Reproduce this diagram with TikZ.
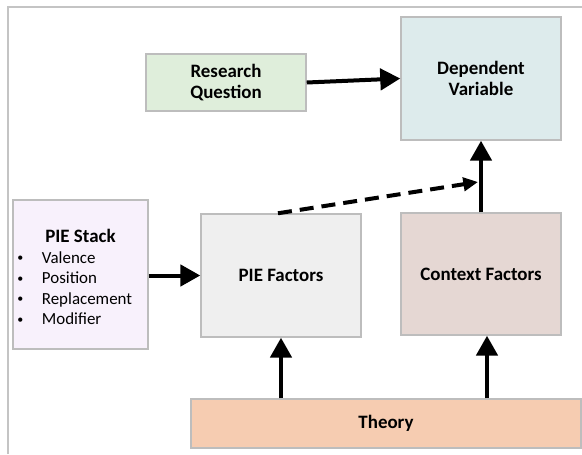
\documentclass[tikz,border=0pt]{standalone}
\usepackage{fontspec}
\setmainfont{Carlito}
\usetikzlibrary{arrows.meta}
\definecolor{framegray}{HTML}{C4C4C4}
\definecolor{boxgray}{HTML}{BDBDBD}
\definecolor{rqfill}{HTML}{DFEEDB}
\definecolor{dvfill}{HTML}{DDEBEC}
\definecolor{stackfill}{HTML}{F8F1FC}
\definecolor{piefill}{HTML}{EFEFEF}
\definecolor{ctxfill}{HTML}{E5D7D3}
\definecolor{thfill}{HTML}{F6CCB1}
\newcommand{\smallbul}{\raisebox{1pt}{\fontsize{9}{9}\selectfont •}}
\tikzset{
  boxnode/.style={draw=boxgray, line width=1.1pt, inner sep=0pt, align=center,
    font=\fontsize{14.2}{15.75}\selectfont\bfseries},
  bigarrow/.style={line width=3pt, -{Triangle[length=15pt,width=16pt]}},
  dasharrow/.style={line width=3pt, dash pattern=on 10.5pt off 6pt, -{Triangle[length=11pt,width=10pt]}},
}
\begin{document}
\begin{tikzpicture}[x=0.75pt,y=-0.75pt]
\useasboundingbox (0,0) rectangle (582,454);
\draw[framegray, line width=1.1pt] (8,454) -- (8,7) -- (582,7);
\node[boxnode, fill=rqfill, minimum width=120pt, minimum height=42.75pt] (rq) at (226,82.5) {Research\\Question};
\node[boxnode, fill=dvfill, minimum width=120pt, minimum height=92.25pt] (dv) at (481,78.5) {Dependent\\Variable};
\node[boxnode, fill=stackfill, minimum width=101.25pt, minimum height=111.75pt] (stack) at (80.5,274.5) {};
\node[inner sep=0pt, anchor=north west, font=\fontsize{12.7}{15.4}\selectfont] (stacktext) at (17,228)
  {\begin{tabular}{@{}l@{\hspace{14pt}}l@{}}
   \multicolumn{2}{@{\hspace{21pt}}l}{\fontsize{14.2}{15}\selectfont\bfseries PIE Stack}\\
   \smallbul&Valence\\ \smallbul&Position\\ \smallbul&Replacement\\ \smallbul&Modifier
   \end{tabular}};
\node[boxnode, fill=piefill, minimum width=120pt, minimum height=92.25pt] (pief) at (281,275.5) {PIE Factors};
\node[boxnode, fill=ctxfill, minimum width=120pt, minimum height=91.5pt] (ctx) at (481,274) {Context Factors};
\node[boxnode, fill=thfill, minimum width=292.5pt, minimum height=36.75pt] (theory) at (386,423.5) {Theory};
\coordinate (dtip) at (478,182);
\draw[bigarrow] (rq.east) -- (dv.west);
\draw[bigarrow] (ctx.north) -- (dv.south);
\draw[bigarrow] (stack.east |- pief.west) -- (pief.west);
\draw[bigarrow] (theory.north -| pief.south) -- (pief.south);
\draw[bigarrow] ([xshift=4.5pt]theory.north -| ctx.south) -- ([xshift=4.5pt]ctx.south);
\draw[dasharrow] ([xshift=-2.25pt]pief.north) -- (dtip);
\end{tikzpicture}
\end{document}
